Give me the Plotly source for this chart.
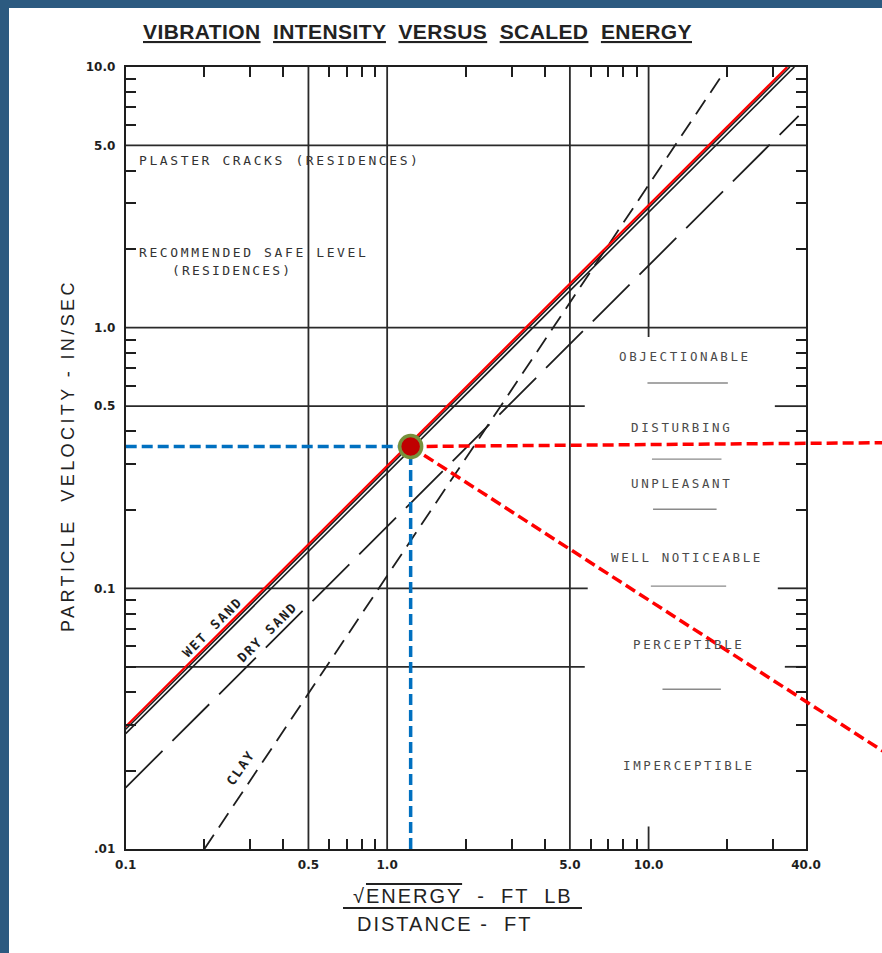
import math
import plotly.graph_objects as go

# ---------------- data ----------------
x_tick_vals = [0.1, 0.5, 1.0, 5.0, 10.0, 40.0]
x_tick_text = ["0.1", "0.5", "1.0", "5.0", "10.0", "40.0"]
y_tick_vals = [0.01, 0.1, 0.5, 1.0, 5.0, 10.0]
y_tick_text = [".01", "0.1", "0.5", "1.0", "5.0", "10.0"]
x_minor_ticks = [0.2, 0.3, 0.4, 0.6, 0.7, 0.8, 0.9, 2, 3, 4, 6, 7, 8, 9, 20, 30]
y_minor_ticks = [0.02, 0.03, 0.04, 0.05, 0.06, 0.07, 0.08, 0.09,
                 0.2, 0.3, 0.4, 0.6, 0.7, 0.8, 0.9, 2, 3, 4, 6, 7, 8, 9]

# partial grid lines: (value, start, end)
h_grid = [(5.0, 0.1, 40.0), (1.0, 0.1, 40.0), (0.5, 0.1, 5.7), (0.1, 0.1, 5.85), (0.05, 0.1, 5.7)]
v_grid = [(0.5, 0.01, 10.0), (1.0, 0.01, 10.0), (5.0, 0.01, 10.0), (10.0, 0.92, 10.0)]
# long ticks on the right frame: (y value, x start)
right_long_ticks = [(0.5, 30.4), (0.1, 31.2), (0.05, 33.2)]
# long tick on the bottom frame: (x value, y end)
bottom_long_ticks = [(10.0, 0.0122)]

# attenuation lines (scaled energy vs particle velocity)
wet_sand_upper_x = [0.1, 34.7]
wet_sand_upper_y = [0.0288, 10.0]
wet_sand_lower_x = [0.1, 36.1]
wet_sand_lower_y = [0.0277, 10.0]
highlight_x = [0.1, 33.9]
highlight_y = [0.0295, 10.0]
dry_sand_x = [0.1, 37.5]
dry_sand_y = [0.0172, 6.5]
clay_x = [0.2, 19.5]
clay_y = [0.01, 9.6]

# highlighted reading
point_x = 1.23
point_y = 0.35
blue_h_x = [0.1, point_x]
blue_h_y = [point_y, point_y]
blue_v_x = [point_x, point_x]
blue_v_y = [0.01, point_y]
red_h_x = [point_x, 80.0]
red_h_y = [point_y, 0.362]
red_d_x = [point_x, 80.0]
red_d_y = [point_y, 0.0235]

# perception category separators: (y value, x start, x end)
category_lines = [(0.613, 9.9, 20.1), (0.313, 10.3, 19.0), (0.201, 10.4, 18.2),
                  (0.102, 10.2, 19.8), (0.041, 11.3, 18.9)]
category_labels = ["OBJECTIONABLE", "DISTURBING", "UNPLEASANT",
                   "WELL NOTICEABLE", "PERCEPTIBLE", "IMPERCEPTIBLE"]

# ---------------- layout geometry ----------------
W, H = 882, 953
L_PX, R_PX, T_PX, B_PX = 125.7, 806.0, 67.0, 849.0
xd = [L_PX / W, R_PX / W]
yd = [1 - B_PX / H, 1 - T_PX / H]
x_range = [math.log10(0.1), math.log10(40.0)]
y_range = [math.log10(0.01), math.log10(10.0)]
# second, invisible x axis with the same scale that reaches the right edge
x2_hi = x_range[0] + (1 - xd[0]) / (xd[1] - xd[0]) * (x_range[1] - x_range[0])

INK = "#1e1e1e"
fig = go.Figure()


def seg_trace(xs, ys, color, width, dash="solid", xa="x", ya="y"):
    fig.add_trace(go.Scatter(x=xs, y=ys, mode="lines", xaxis=xa, yaxis=ya,
                             line=dict(color=color, width=width, dash=dash),
                             hoverinfo="skip", showlegend=False))


# grid lines
gx, gy = [], []
for v, a, b in h_grid:
    gx += [a, b, None]; gy += [v, v, None]
for v, a, b in v_grid:
    gx += [v, v, None]; gy += [a, b, None]
for v, a in right_long_ticks:
    gx += [a, 40.0, None]; gy += [v, v, None]
for v, b in bottom_long_ticks:
    gx += [v, v, None]; gy += [0.01, b, None]
seg_trace(gx, gy, "#2a2a2a", 1.8)

# category separators
cx, cy = [], []
for v, a, b in category_lines:
    cx += [a, b, None]; cy += [v, v, None]
seg_trace(cx, cy, "#8a8a8a", 1.4)

# soil lines
seg_trace(clay_x, clay_y, INK, 1.8, dash="17px,9px")
seg_trace(dry_sand_x, dry_sand_y, INK, 1.8, dash="52px,14px")
seg_trace(wet_sand_lower_x, wet_sand_lower_y, INK, 1.6)
seg_trace(wet_sand_upper_x, wet_sand_upper_y, INK, 1.6)
seg_trace(highlight_x, highlight_y, "#ff0000", 2.2)

# blue reading lines
seg_trace(blue_h_x, blue_h_y, "#0070c0", 3.5, dash="11px,5px")
seg_trace(blue_v_x, blue_v_y, "#0070c0", 3.5, dash="11px,5px")

# red extension lines (run past the frame to the page edge)
seg_trace(red_h_x, red_h_y, "#ff0000", 3.5, dash="11px,5px", xa="x2", ya="y2")
seg_trace(red_d_x, red_d_y, "#ff0000", 3.5, dash="11px,5px", xa="x2", ya="y2")

fig.add_trace(go.Scatter(x=[point_x], y=[point_y], mode="markers", xaxis="x2", yaxis="y2",
                         marker=dict(size=22, color="#c00000",
                                     line=dict(color="#76923c", width=3.5)),
                         hoverinfo="skip", showlegend=False))

tickfont = dict(family="DejaVu Sans", size=12, color=INK, weight="bold")
axis_common = dict(type="log", showgrid=False, zeroline=False, showline=True,
                   linecolor=INK, linewidth=2, mirror="allticks", ticks="",
                   tickmode="array", tickfont=tickfont, automargin=False)

fig.update_layout(
    width=W, height=H,
    margin=dict(l=0, r=0, t=0, b=0),
    paper_bgcolor="white", plot_bgcolor="rgba(0,0,0,0)",
    showlegend=False,
    xaxis=dict(**axis_common, domain=xd, range=x_range, anchor="y",
               tickvals=x_tick_vals, ticktext=x_tick_text, ticklabelstandoff=4,
               minor=dict(tickmode="array", tickvals=x_minor_ticks, ticks="inside",
                          ticklen=10, tickwidth=2, tickcolor=INK, showgrid=False)),
    yaxis=dict(**axis_common, domain=yd, range=y_range, anchor="x",
               tickvals=y_tick_vals, ticktext=y_tick_text, ticklabelstandoff=6,
               minor=dict(tickmode="array", tickvals=y_minor_ticks, ticks="inside",
                          ticklen=10, tickwidth=2, tickcolor=INK, showgrid=False)),
    xaxis2=dict(type="log", domain=[xd[0], 1.0], range=[x_range[0], x2_hi],
                visible=False, anchor="y2"),
    yaxis2=dict(type="log", domain=yd, range=y_range, visible=False, anchor="x2"),
)


def sp(text, px):
    return f'<span style="letter-spacing:{px}px">{text}</span>'


def ann(text, xpx, ypx, size, family="DejaVu Sans Mono", color=INK, angle=0,
        xanchor="center", weight="normal"):
    fig.add_annotation(text=text, x=xpx / W, y=1 - ypx / H, xref="paper", yref="paper",
                       showarrow=False, xanchor=xanchor, yanchor="middle",
                       textangle=angle,
                       font=dict(family=family, size=size, color=color, weight=weight))


# title
title_words = ["VIBRATION", "INTENSITY", "VERSUS", "SCALED", "ENERGY"]
ann(sp("  ".join(f"<u>{w}</u>" for w in title_words), 0.4), 417, 31, 21,
    family="Liberation Sans", weight="bold", color="#222")

# axis titles
ann(sp("PARTICLE  VELOCITY - IN/SEC", 3.4), 68, 456, 18, family="Liberation Sans",
    angle=-90, color="#222")
ann(sp('√<span style="text-decoration:overline">ENERGY</span>  -  FT  LB', 2), 463, 896, 20,
    family="Liberation Sans", color="#222")
ann(sp("DISTANCE -  FT", 2), 444, 924, 20, family="Liberation Sans", color="#222")
fig.add_shape(type="line", xref="paper", yref="paper", x0=343 / W, x1=582 / W,
              y0=1 - 908 / H, y1=1 - 908 / H, line=dict(color="#222", width=2))

# in-chart notes
ann(sp("PLASTER CRACKS (RESIDENCES)", 2.6), 137, 160, 13, xanchor="left", color="#333")
ann(sp("RECOMMENDED SAFE LEVEL", 2.6), 137, 252, 13, xanchor="left", color="#333")
ann(sp("(RESIDENCES)", 2.2), 232, 270, 13, color="#333")

cat_pos = [(685, 357), (681, 427), (681, 483), (687, 557), (688, 644), (689, 765)]
for lab, (px, py) in zip(category_labels, cat_pos):
    ann(sp(lab, 2.6), px, py, 12.5, color="#4a4a4a")

ann(sp("WET SAND", 2), 212, 627, 13, angle=-45, weight="bold")
ann(sp("DRY SAND", 2), 267, 632, 13, angle=-45, weight="bold")
ann(sp("CLAY", 2), 240, 768, 13, angle=-55, weight="bold")

# page frame (dark blue strips at left and top)
fig.add_shape(type="rect", xref="paper", yref="paper", x0=0, x1=9 / W, y0=0, y1=1,
              fillcolor="#2c5a80", line=dict(width=0), layer="above")
fig.add_shape(type="rect", xref="paper", yref="paper", x0=0, x1=1, y0=1 - 8 / H, y1=1,
              fillcolor="#2c5a80", line=dict(width=0), layer="above")

fig.write_html("out.html")
